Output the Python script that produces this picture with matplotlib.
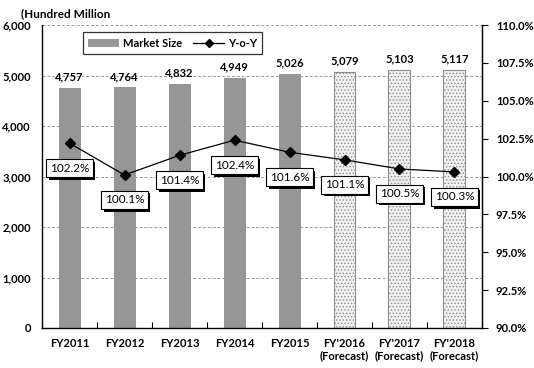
import matplotlib
matplotlib.use('Agg')
import matplotlib.pyplot as plt
from matplotlib.patches import Patch, Rectangle
from matplotlib.lines import Line2D
from matplotlib.transforms import IdentityTransform
import numpy as np

categories = ['FY2011', 'FY2012', 'FY2013', 'FY2014', 'FY2015',
              "FY'2016\n(Forecast)", "FY'2017\n(Forecast)", "FY'2018\n(Forecast)"]
market_size = [4757, 4764, 4832, 4949, 5026, 5079, 5103, 5117]
yoy = [102.2, 100.1, 101.4, 102.4, 101.6, 101.1, 100.5, 100.3]
is_forecast = [False, False, False, False, False, True, True, True]

plt.rcParams['font.family'] = ['Lato', 'DejaVu Sans']
plt.rcParams['hatch.color'] = '#9a9a9a'
plt.rcParams['hatch.linewidth'] = 0.6

fig = plt.figure(figsize=(5.34, 3.68), dpi=100)
ax = fig.add_axes([0.0787, 0.1087, 0.8239, 0.8233])
ax2 = ax.twinx()

x = np.arange(len(categories))

# bars
for i, v in enumerate(market_size):
    if is_forecast[i]:
        ax.bar(x[i], v, width=0.4, facecolor='#f0f0f0', edgecolor='#8c8c8c',
               hatch='.....', linewidth=0.8, zorder=2)
    else:
        ax.bar(x[i], v, width=0.4, color='#969696', zorder=2)
    ax.text(x[i], v + 110, f'{v:,}', ha='center', va='bottom',
            fontsize=8, fontweight='bold', zorder=3)

ax.set_xlim(-0.5, len(categories) - 0.5)
ax.set_ylim(0, 6000)
ax.set_yticks(range(0, 6001, 1000))
ax.set_yticklabels([f'{t:,}' for t in range(0, 6001, 1000)])
ax.grid(axis='y', linestyle=(0, (3, 2)), color='#999999', linewidth=0.7, zorder=0)
ax.set_axisbelow(True)

ax.set_xticks(x)
ax.set_xticklabels(categories)
ax.set_xticks(np.arange(-0.5, len(categories), 1), minor=True)
ax.tick_params(axis='x', which='major', length=0, pad=7)
ax.tick_params(axis='x', which='minor', direction='in', length=4, width=0.8)
ax.tick_params(axis='y', length=0, pad=8)
for lbl in ax.get_xticklabels() + ax.get_yticklabels():
    lbl.set_fontsize(8)
    lbl.set_fontweight('bold')

ax.spines['top'].set_visible(False)
ax2.spines['top'].set_visible(False)
for s in ['left', 'bottom']:
    ax.spines[s].set_linewidth(1.0)
ax2.spines['right'].set_linewidth(1.0)
ax2.spines['left'].set_visible(False)
ax2.spines['bottom'].set_visible(False)

# YoY line
ax2.plot(x, yoy, color='black', linewidth=0.9, marker='D', markersize=5, zorder=4)
ax2.set_ylim(90, 110)
ax2.set_yticks(np.arange(90, 110.1, 2.5))
ax2.set_yticklabels([f'{t:.1f}%' for t in np.arange(90, 110.1, 2.5)])
ax2.tick_params(axis='y', direction='out', length=4, width=0.8, pad=6)
for lbl in ax2.get_yticklabels():
    lbl.set_fontsize(8)
    lbl.set_fontweight('bold')

# data labels in white boxes
labels = []
for i, v in enumerate(yoy):
    t = ax2.annotate(f'{v:.1f}%', (x[i], v), xytext=(0, -18), textcoords='offset points',
                     ha='center', va='center', fontsize=8.5, color='black', zorder=6,
                     bbox=dict(boxstyle='square,pad=0.3', linewidth=0.8,
                               facecolor='white', edgecolor='black'))
    labels.append(t)

# legend
handles = [Patch(facecolor='#969696', edgecolor='none'),
           Line2D([], [], color='black', marker='D', markersize=4, linewidth=0.9)]
leg = ax2.legend(handles, ['Market Size', 'Y-o-Y'], ncol=2, loc='upper left',
                 bbox_to_anchor=(0.08, 0.995), frameon=True, fancybox=False,
                 edgecolor='black', fontsize=8, handlelength=2.8, columnspacing=1.0,
                 borderpad=0.5, handletextpad=0.3)
leg.get_frame().set_linewidth(0.9)
leg.set_zorder(10)
for txt in leg.get_texts():
    txt.set_fontweight('bold')

fig.text(0.04, 0.962, '(Hundred Million', fontsize=8.5, fontweight='bold',
         ha='left', va='center')

# drop shadows behind the label boxes (need the drawn box extents)
fig.canvas.draw()
for t in labels:
    bb = t.get_bbox_patch().get_window_extent()
    ax2.add_patch(Rectangle((bb.x0 + 2.5, bb.y0 - 2.5), bb.width, bb.height,
                            transform=IdentityTransform(), facecolor='black',
                            edgecolor='none', zorder=5))

fig.savefig('out.png', dpi=100)
